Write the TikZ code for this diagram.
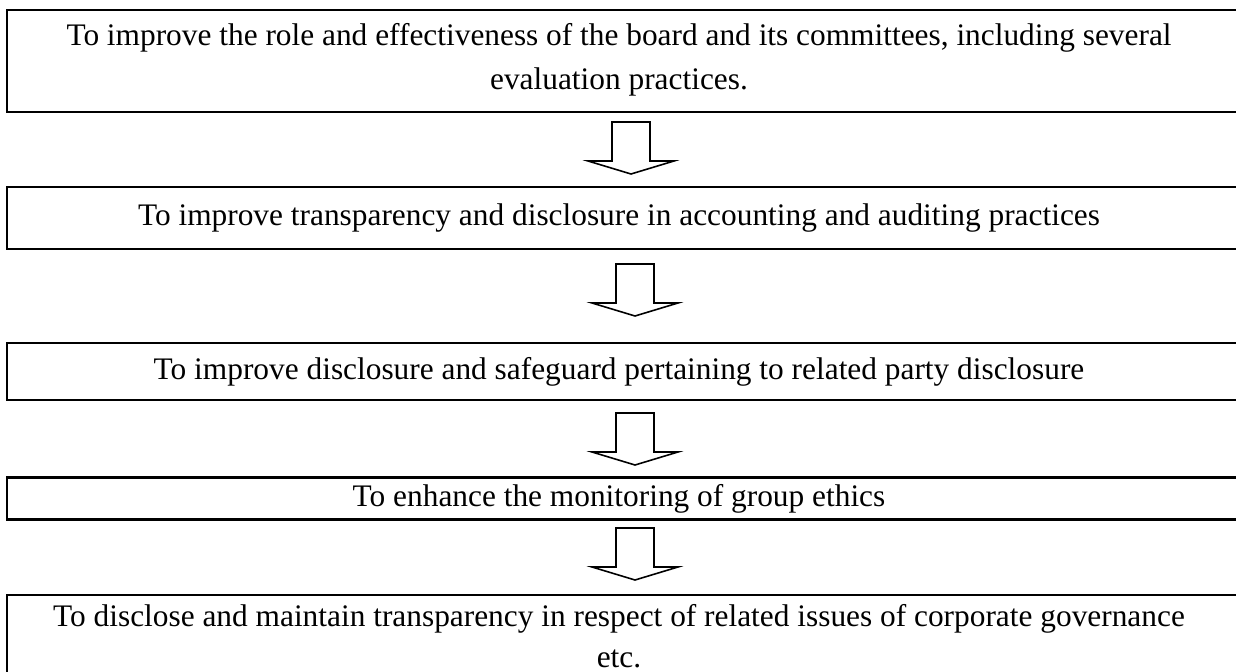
\documentclass[tikz,border=0pt]{standalone}
\usepackage{fontspec}
\setmainfont{Liberation Serif}
\usetikzlibrary{positioning}

\begin{document}
\begin{tikzpicture}
[x=0.02cm, y=-0.02cm,
 goal/.style={rectangle, draw=black, line width=1.4pt, inner sep=0pt,
   minimum width=24.86cm},
 goaltext/.style={inner sep=0pt, align=center,
   font=\fontsize{17.85}{25}\selectfont},
 blockdown/.pic={\draw[line width=0.9pt, line join=miter]
   (-19,0) -- (19,0) -- (19,39) -- (43,39) -- (0,52)
   -- (-43,39) -- (-19,39) -- cycle;}]

\useasboundingbox (0,0) rectangle (1236,672);
\clip (0,0) rectangle (1236,672);

% the goal boxes, top to bottom (open past the right edge)
\node[goal, minimum height=2.04cm] (g1) at (628.5,61) {};
\node[goal, minimum height=1.24cm] (g2) at (628.5,218) {};
\node[goal, minimum height=1.14cm] (g3) at (628.5,371.5) {};
\node[goal, minimum height=0.84cm] (g4) at (628.5,498.5) {};
\node[goal, minimum height=1.8cm] (g5) at (628.5,640) {};

% their texts
\node[goaltext] (t1) at (619,60)
  {To improve the role and effectiveness of the board and its committees, including several\\
   evaluation practices.};
\node[goaltext] (t2) at (619,218)
  {To improve transparency and disclosure in accounting and auditing practices};
\node[goaltext] (t3) at (619,371.5)
  {To improve disclosure and safeguard pertaining to related party disclosure};
\node[goaltext] (t4) at (619,498.5)
  {To enhance the monitoring of group ethics};
\node[goaltext, font=\fontsize{17.85}{23}\selectfont] (t5) at (619,636)
  {To disclose and maintain transparency in respect of related issues of corporate governance\\
   etc.};

% hollow arrows between the goals
\pic (a1) at (631,122) {blockdown};
\pic (a2) at (635,264) {blockdown};
\pic (a3) at (635,413) {blockdown};
\pic (a4) at (635,528) {blockdown};

\end{tikzpicture}
\end{document}
